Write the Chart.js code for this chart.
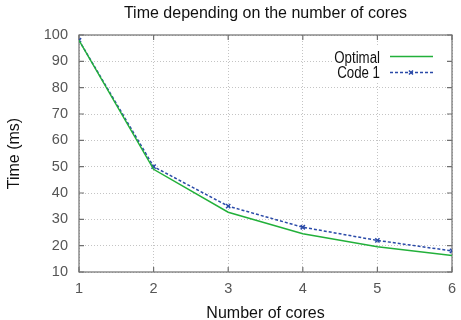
<!DOCTYPE html>
<html>
<head>
<meta charset="utf-8">
<script src="https://cdn.jsdelivr.net/npm/chart.js@4"></script>
<style>
html,body{margin:0;padding:0;background:#fff;}
#wrap{width:461px;height:320px;}
</style>
</head>
<body>
<div id="wrap"><canvas id="c" width="461" height="320"></canvas></div>
<script>
const cores = [1, 2, 3, 4, 5, 6];
const optimal = [98, 49, 32.7, 24.5, 19.6, 16.3];
const code1 = [98, 50, 35, 27, 22, 18];
const yTicks = [10, 20, 30, 40, 50, 60, 70, 80, 90, 100];
const seriesNames = ['Optimal', 'Code 1'];

const FONT = '"Liberation Sans", Arial, Helvetica, sans-serif';
const GREEN = '#22b03a';
const BLUE = '#2a4aa8';
const BOX = '#707070';

const boxPlugin = {
  id: 'gnuBox',
  beforeDatasetsDraw(chart) {
    const {ctx, chartArea: a, scales} = chart;
    ctx.save();
    // opaque key background
    ctx.fillStyle = '#fff';
    ctx.fillRect(334, 46, 114, 35);
    // border box
    ctx.strokeStyle = BOX;
    ctx.lineWidth = 1.2;
    ctx.strokeRect(a.left, a.top, a.right - a.left, a.bottom - a.top);
    // inward tick marks (mirrored)
    ctx.beginPath();
    scales.y.ticks.forEach(t => {
      const y = scales.y.getPixelForValue(t.value);
      ctx.moveTo(a.left, y); ctx.lineTo(a.left + 5, y);
      ctx.moveTo(a.right, y); ctx.lineTo(a.right - 5, y);
    });
    scales.x.ticks.forEach(t => {
      const x = scales.x.getPixelForValue(t.value);
      ctx.moveTo(x, a.bottom); ctx.lineTo(x, a.bottom - 5);
      ctx.moveTo(x, a.top); ctx.lineTo(x, a.top + 5);
    });
    ctx.stroke();
    // key text (slightly condensed, as in the reference)
    ctx.font = '16px ' + FONT;
    ctx.fillStyle = '#111';
    ctx.textAlign = 'right';
    ctx.textBaseline = 'middle';
    ctx.save();
    ctx.translate(380, 0);
    ctx.scale(0.83, 1);
    ctx.fillText(seriesNames[0], 0, 58.5);
    ctx.fillText(seriesNames[1], 0, 74);
    ctx.restore();
    // key samples
    ctx.lineWidth = 1.5;
    ctx.strokeStyle = GREEN;
    ctx.beginPath(); ctx.moveTo(390, 56.5); ctx.lineTo(433, 56.5); ctx.stroke();
    ctx.strokeStyle = BLUE;
    ctx.setLineDash([3, 2]);
    ctx.beginPath(); ctx.moveTo(390, 72.5); ctx.lineTo(433, 72.5); ctx.stroke();
    ctx.setLineDash([]);
    ctx.beginPath();
    ctx.moveTo(409, 70.5); ctx.lineTo(413, 74.5);
    ctx.moveTo(413, 70.5); ctx.lineTo(409, 74.5);
    ctx.stroke();
    ctx.restore();
  }
};

new Chart(document.getElementById('c'), {
  type: 'line',
  data: {
    datasets: [
      {
        label: seriesNames[0],
        data: cores.map((c, i) => ({x: c, y: optimal[i]})),
        borderColor: GREEN,
        borderWidth: 1.5,
        pointRadius: 0,
        fill: false,
        tension: 0
      },
      {
        label: seriesNames[1],
        data: cores.map((c, i) => ({x: c, y: code1[i]})),
        borderColor: BLUE,
        backgroundColor: BLUE,
        borderWidth: 1.5,
        borderDash: [3, 2],
        pointStyle: 'crossRot',
        pointRadius: 3,
        pointBorderWidth: 1.5,
        fill: false,
        tension: 0
      }
    ]
  },
  options: {
    responsive: false,
    animation: false,
    devicePixelRatio: 1,
    layout: {padding: {left: 0, right: 9, top: 0, bottom: 0}},
    plugins: {
      legend: {display: false},
      tooltip: {enabled: false},
      title: {
        display: true,
        fullSize: false,
        text: 'Time depending on the number of cores',
        color: '#111',
        font: {family: FONT, size: 16, weight: 'normal', lineHeight: 1.2},
        padding: {top: 3.9, bottom: 11.9}
      }
    },
    scales: {
      x: {
        type: 'linear',
        min: 1, max: 6,
        afterFit(s) { s.height = 48; s.paddingLeft = 0; s.paddingRight = 0; },
        ticks: {stepSize: 1, padding: 8, color: '#555', font: {family: FONT, size: 14.5}},
        grid: {color: '#c4c4c4', lineWidth: 1, drawTicks: false},
        border: {display: false, dash: [1, 2]},
        title: {display: true, text: 'Number of cores', color: '#111',
          font: {family: FONT, size: 16, lineHeight: 1.2}, padding: {top: 0, bottom: -3}}
      },
      y: {
        type: 'linear',
        min: 10, max: 100,
        afterFit(s) { s.width = 79; s.paddingTop = 0; s.paddingBottom = 0; },
        afterBuildTicks(s) { s.ticks = yTicks.map(v => ({value: v})); },
        ticks: {padding: 11, color: '#555', font: {family: FONT, size: 14.5}},
        grid: {color: '#c4c4c4', lineWidth: 1, drawTicks: false},
        border: {display: false, dash: [1, 2]},
        title: {display: true, text: 'Time (ms)', color: '#111',
          font: {family: FONT, size: 16, lineHeight: 1.2}, padding: {top: 5.4, bottom: 0}}
      }
    }
  },
  plugins: [boxPlugin]
});
</script>
</body>
</html>
